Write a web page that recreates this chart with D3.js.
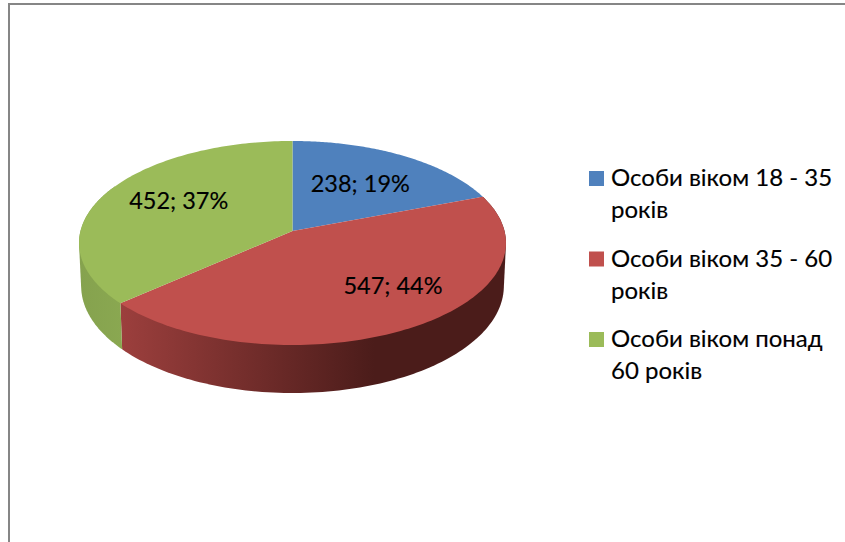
<!DOCTYPE html>
<html>
<head>
<meta charset="utf-8">
<script src="https://cdn.jsdelivr.net/npm/d3@7"></script>
<style>
    body { margin: 0; background: #fff; }
    svg { display: block; }
    text { font-family: Lato, "Open Sans", "Noto Sans", sans-serif; fill: #000; stroke: #000; stroke-width: 0.15px; }
</style>
</head>
<body>
<svg width="845" height="542"></svg>
<script>
const categories = ["Особи віком 18 - 35 років", "Особи віком 35 - 60 років", "Особи віком понад 60 років"];
const values = [238, 547, 452];
const percents = [19, 44, 37];
const colors = ["#4f81bd", "#c0504d", "#9bbb59"];
// legend text wrapped the way it is in the picture
const legendLines = [
    ["Особи віком 18 - 35", "років"],
    ["Особи віком 35 - 60", "років"],
    ["Особи віком понад", "60 років"]
];

const svg = d3.select("svg");
const defs = svg.append("defs");

// chart frame, only top and left show
svg.append("path")
    .attr("d", "M9,542V4H845")
    .attr("fill", "none")
    .attr("stroke", "#868686")
    .attr("stroke-width", 2);

// perspective projection of the pie disc
const cx = 292.5, cy = 231, rx = 212, ry = 100.6, persp = 0.1176, depth = 42.4;
function project(angle, r, bottom) {
    const u = Math.sin(angle) * r, v = -Math.cos(angle) * r;
    const w = 1 / (1 - persp * v);
    const x = u * rx * w, y = v * ry * w;
    if (bottom) return [cx + x * 0.99, cy + y + depth * w];
    return [cx + x, cy + y];
}

const arcs = d3.pie().sort(null)(values);
const line = d3.line();

function arcPoints(a0, a1, bottom) {
    return d3.range(0, 121).map(i => project(a0 + (a1 - a0) * i / 120, 1, bottom));
}

// side wall, gradients run left to right
// green only needs the front part of its arc, the rest is behind the top face
const sides = [
    { i: 1, stops: [["0%", "#9c3f3d"], ["66%", "#4b1c1a"], ["100%", "#4b1c1a"]], x1: 121, x2: 505, maxAngle: 7 },
    { i: 2, stops: [["0%", "#85a24e"], ["100%", "#8aa851"]], x1: 79, x2: 124, maxAngle: 5.2 }
];
sides.forEach(s => {
    const g = defs.append("linearGradient")
        .attr("id", "side" + s.i)
        .attr("gradientUnits", "userSpaceOnUse")
        .attr("x1", s.x1).attr("x2", s.x2).attr("y1", 0).attr("y2", 0);
    g.selectAll("stop").data(s.stops).enter().append("stop")
        .attr("offset", d => d[0])
        .attr("stop-color", d => d[1]);
    const a = arcs[s.i];
    const end = Math.min(a.endAngle, s.maxAngle);
    const pts = arcPoints(a.startAngle, end, false)
        .concat(arcPoints(a.startAngle, end, true));
    svg.append("path")
        .attr("d", line(d3.polygonHull(pts)) + "Z")
        .attr("fill", "url(#side" + s.i + ")");
});

// top face
svg.selectAll(".slice")
    .data(arcs)
    .enter().append("path")
    .attr("class", "slice")
    .attr("fill", (d, i) => colors[i])
    .attr("d", d => line([[cx, cy]].concat(arcPoints(d.startAngle, d.endAngle, false))) + "Z");

// data labels
const labelNudge = [[-0.5, 8], [30.5, 8], [-1, 2]];
svg.selectAll(".label")
    .data(arcs)
    .enter().append("text")
    .attr("class", "label")
    .attr("text-anchor", "middle")
    .attr("font-size", "23.5px")
    .attr("x", (d, i) => project((d.startAngle + d.endAngle) / 2, 0.6)[0] + labelNudge[i][0])
    .attr("y", (d, i) => project((d.startAngle + d.endAngle) / 2, 0.6)[1] + labelNudge[i][1])
    .text((d, i) => values[i] + "; " + percents[i] + "%");

// legend
const legendY = d3.scalePoint().domain(d3.range(categories.length)).range([171, 332]);
const legend = svg.selectAll(".legend")
    .data(categories)
    .enter().append("g")
    .attr("class", "legend")
    .attr("transform", (d, i) => "translate(589," + legendY(i) + ")");
legend.append("rect")
    .attr("width", 15)
    .attr("height", 15)
    .attr("fill", (d, i) => colors[i]);
legend.selectAll("text")
    .data((d, i) => legendLines[i])
    .enter().append("text")
    .attr("x", 22)
    .attr("y", (d, j) => 15 + j * 32)
    .attr("font-size", "24px")
    .text(d => d);
</script>
</body>
</html>
